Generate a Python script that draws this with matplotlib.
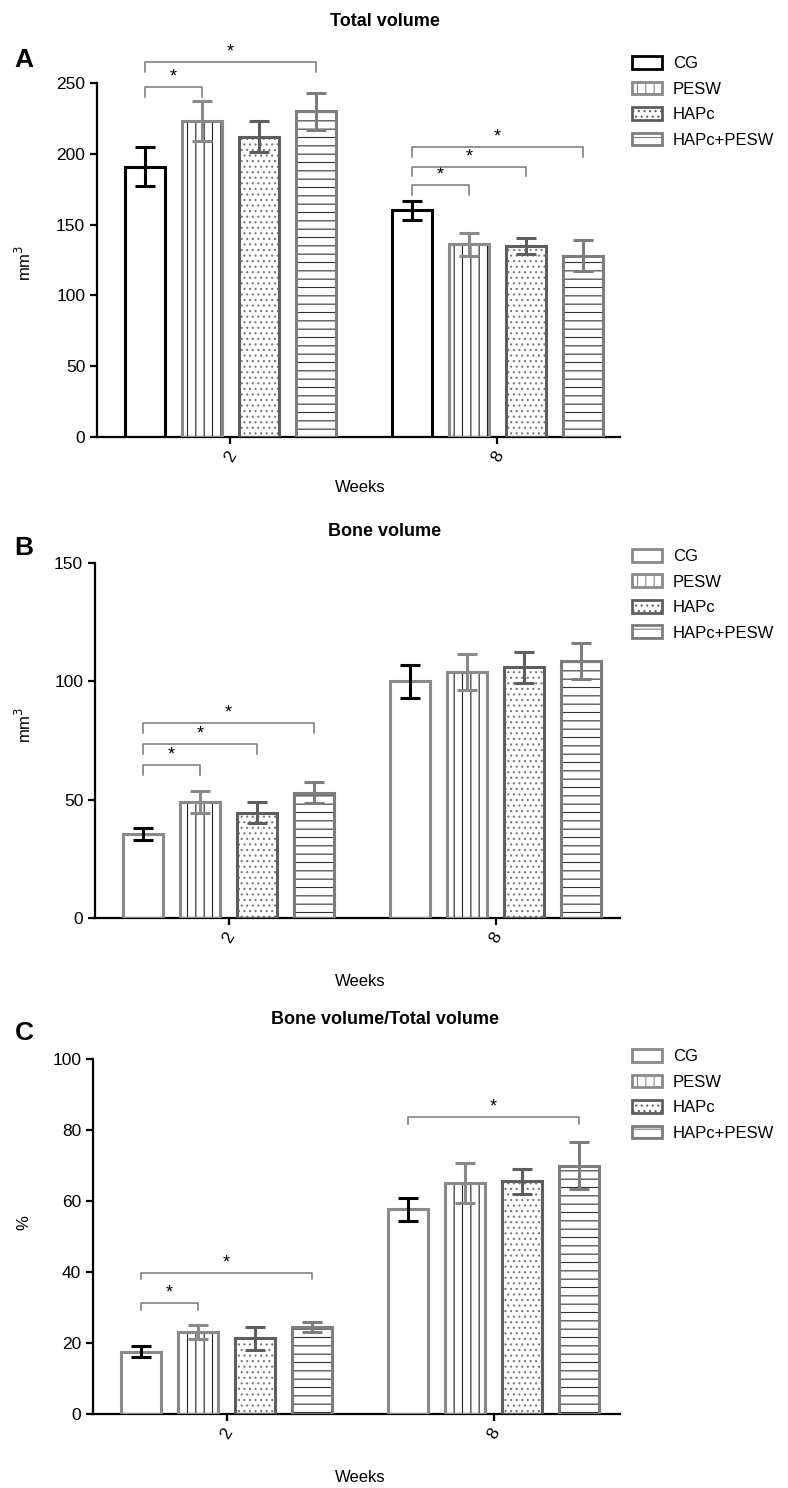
import matplotlib.pyplot as plt
from matplotlib.patches import Patch

plt.rcParams['font.family'] = ['Liberation Sans', 'DejaVu Sans']
plt.rcParams['hatch.linewidth'] = 0.8

# datos
grupos = ['CG', 'PESW', 'HAPc', 'HAPc+PESW']
semanas = ['2', '8']

# A: Total volume (mm3)
tv_media = [[191, 223, 212, 230], [160, 136, 135, 128]]
tv_err = [[14, 14, 11, 13], [7, 8, 5.5, 11]]
# B: Bone volume (mm3)
bv_media = [[35.5, 49, 44.5, 53], [100, 104, 106, 108.5]]
bv_err = [[2.7, 4.5, 4.5, 4.5], [7, 7.5, 6.5, 7.5]]
# C: BV/TV (%)
bvtv_media = [[17.6, 23, 21.3, 24.5], [57.7, 65, 65.5, 70]]
bvtv_err = [[1.6, 2, 3.2, 1.3], [3.2, 5.6, 3.4, 6.7]]

# corchetes de significancia: (semana, grupo destino, altura)
tv_sig = [(0, 1, 247), (0, 3, 265), (1, 1, 178), (1, 2, 191), (1, 3, 205)]
bv_sig = [(0, 1, 64.5), (0, 2, 73.4), (0, 3, 82.3)]
bvtv_sig = [(0, 1, 31.2), (0, 3, 39.8), (1, 3, 83.6)]

tramas = ['', '||', '...', '--']
color_trama = ['white', '#222222', '#777777', '#333333']
color_borde = ['#8a8a8a', '#8a8a8a', '#5e5e5e', '#7d7d7d']
color_err = ['black', '#8a8a8a', '#5e5e5e', '#7d7d7d']

W, H = 788, 1488
paso = 0.2135
ancho = 0.15


def panel(rect, medias, errores, sig, caida, ylim, yticks, ylabel, ylabel_y,
          titulo, titulo_y, letra, letra_y, weeks_y, leg_y, borde_cg):
    ax = fig.add_axes([rect[0] / W, 1 - rect[3] / H, (rect[2] - rect[0]) / W, (rect[3] - rect[1]) / H])
    bordes = [borde_cg] + color_borde[1:]
    for i in range(4):
        xs = [g + (i - 1.5) * paso for g in range(2)]
        ys = [medias[g][i] for g in range(2)]
        es = [errores[g][i] for g in range(2)]
        ax.bar(xs, ys, width=ancho, color='white', edgecolor=color_trama[i],
               hatch=tramas[i], linewidth=0, zorder=2)
        ax.bar(xs, ys, width=ancho, fill=False, edgecolor=bordes[i],
               linewidth=2.2, zorder=3)
        ax.errorbar(xs, ys, yerr=es, fmt='none', ecolor=color_err[i],
                    elinewidth=2.2, capsize=7, capthick=2.2, zorder=4)
    for g, j, y in sig:
        x0 = g - 1.5 * paso
        x1 = g + (j - 1.5) * paso
        ax.plot([x0, x0, x1, x1], [y - caida, y, y, y - caida], color='#777777',
                linewidth=1.1, clip_on=False, zorder=5)
        ax.annotate('*', ((x0 + x1) / 2, y), xytext=(0, 1), textcoords='offset points',
                    ha='center', va='bottom', fontsize=13, annotation_clip=False)
    ancho_px = rect[2] - rect[0]
    ax.set_xlim(-0.5, -0.5 + ancho_px / 267)
    ax.set_ylim(*ylim)
    ax.set_yticks(yticks)
    ax.set_xticks([0, 1])
    ax.set_xticklabels(semanas, rotation=60, ha='center')
    for s in ['top', 'right']:
        ax.spines[s].set_visible(False)
    for s in ['left', 'bottom']:
        ax.spines[s].set_linewidth(1.6)
    ax.tick_params(width=1.6, length=5, labelsize=12.5)
    fig.text(24 / W, 1 - ylabel_y / H, ylabel, rotation=90, ha='center', va='center', fontsize=12)
    fig.text(385 / W, 1 - titulo_y / H, titulo, ha='center', va='center', fontsize=13, fontweight='bold')
    fig.text(24 / W, 1 - letra_y / H, letra, ha='center', va='center', fontsize=19, fontweight='bold')
    fig.text(360 / W, 1 - weeks_y / H, 'Weeks', ha='center', va='center', fontsize=12)
    manejadores = [Patch(facecolor='white', edgecolor=bordes[i], hatch=tramas[i], linewidth=2)
                   for i in range(4)]
    fig.legend(manejadores, grupos, loc='upper left', bbox_to_anchor=(632 / W, 1 - leg_y / H),
               frameon=False, fontsize=12, borderpad=0, borderaxespad=0,
               handlelength=1.8, handleheight=0.8, handletextpad=0.65, labelspacing=0.62)
    return ax


fig = plt.figure(figsize=(7.88, 14.88), dpi=100)

panel((97, 83, 620, 437), tv_media, tv_err, tv_sig, 7, (0, 250), range(0, 251, 50),
      'mm$^3$', 263, 'Total volume', 22, 'A', 60, 488, 56, 'black')
panel((95, 563, 620, 918), bv_media, bv_err, bv_sig, 4, (0, 150), [0, 50, 100, 150],
      'mm$^3$', 725, 'Bone volume', 532, 'B', 548, 982, 549, '#8a8a8a')
panel((93, 1059, 620, 1414), bvtv_media, bvtv_err, bvtv_sig, 1.9, (0, 100), range(0, 101, 20),
      '%', 1223, 'Bone volume/Total volume', 1020, 'C', 1033, 1478, 1049, '#8a8a8a')

plt.savefig('out.png', dpi=100)
